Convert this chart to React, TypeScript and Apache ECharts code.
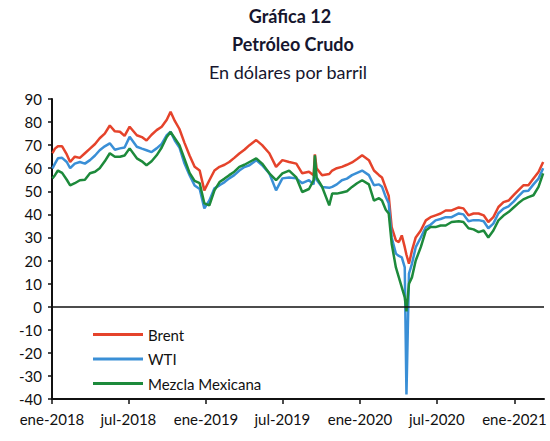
import React, { useEffect, useRef } from "react";
import * as echarts from "echarts";

const dates = [
  "2018-01-02","2018-01-08","2018-01-15","2018-01-25","2018-02-05","2018-02-13","2018-02-24","2018-03-08","2018-03-20","2018-04-01",
  "2018-04-13","2018-04-24","2018-05-06","2018-05-18","2018-05-30","2018-06-11","2018-06-22","2018-07-04","2018-07-21","2018-08-02",
  "2018-08-13","2018-08-25","2018-09-06","2018-09-18","2018-09-30","2018-10-09","2018-10-19","2018-10-30","2018-11-11","2018-11-23",
  "2018-12-05","2018-12-17","2018-12-28","2019-01-09","2019-01-21","2019-02-02","2019-02-14","2019-02-25","2019-03-09","2019-03-21",
  "2019-04-02","2019-04-14","2019-04-30","2019-05-14","2019-05-31","2019-06-16","2019-07-01","2019-07-17","2019-08-03","2019-08-17",
  "2019-09-02","2019-09-13","2019-09-16","2019-09-20","2019-10-03","2019-10-20","2019-10-27","2019-11-07","2019-11-19","2019-12-01",
  "2019-12-13","2019-12-25","2020-01-06","2020-01-22","2020-02-03","2020-02-15","2020-02-22","2020-03-02","2020-03-09","2020-03-16",
  "2020-03-26","2020-04-02","2020-04-09","2020-04-16","2020-04-20","2020-04-26","2020-05-03","2020-05-12","2020-05-24","2020-06-05",
  "2020-06-16","2020-06-28","2020-07-10","2020-07-22","2020-08-05","2020-08-22","2020-09-02","2020-09-14","2020-09-26","2020-10-08",
  "2020-10-20","2020-10-31","2020-11-12","2020-11-24","2020-12-06","2020-12-18","2020-12-30","2021-01-10","2021-01-22","2021-02-03",
  "2021-02-15","2021-02-27","2021-03-10",
];

const brent = [
  66.5, 68.5, 69.5, 69.5, 66, 62.7, 65, 64.5, 66.5, 68.5,
  70.5, 73, 75, 78.5, 76, 75.8, 74, 78, 74.3, 73.5,
  72, 74.5, 76.5, 78, 81, 84.5, 80.5, 77, 71, 65.5,
  60.6, 59, 50.4, 54.8, 59, 60.6, 61.5, 62.7, 64.5, 66.4,
  68, 70, 72.2, 70, 66.5, 60.6, 63.5, 62.7, 62, 57.8,
  58.5, 57, 66, 60, 57, 57.5, 59, 60, 60.6, 61.5,
  62.5, 64, 65.6, 63.5, 59, 57, 56, 51.5, 48, 34.5,
  28.7, 28, 30.9, 25.8, 22.5, 18.6, 24.3, 30, 33, 37.4,
  38.8, 39.6, 40.4, 41.7, 41.7, 43, 42.6, 39.6, 40.4, 40.4,
  39.6, 36.7, 38.8, 43.2, 45.3, 46, 48.3, 50.4, 52.6, 52.6,
  55.5, 58.4, 62.7,
];

const wti = [
  59.9, 62, 64.3, 64.5, 62.7, 60, 62, 62.7, 62, 63.5,
  65.5, 67.8, 69.5, 70.8, 68, 68.6, 69, 73.6, 69.3, 68.5,
  67.8, 67, 68.6, 70.5, 74.3, 75.8, 72, 69, 62, 57,
  52.5, 51, 42.6, 46, 51.3, 52.6, 54, 55.6, 57, 59,
  60.5, 61.3, 63.5, 61.3, 57.8, 50.4, 55.6, 56, 55.6, 53.5,
  54.8, 53, 60, 55, 51.9, 51.5, 51.9, 53, 54.8, 55.5,
  57, 58, 59, 57, 52.6, 53, 52, 47.5, 44.8, 30,
  23, 22, 21.4, 17, -38, 14.3, 18.6, 25.8, 30, 34.5,
  35.5, 37.4, 38, 38.8, 38.8, 40.4, 40, 37, 37.5, 37.5,
  37, 34, 36, 40.5, 42.5, 43.5, 45.5, 47.8, 50, 50.2,
  53, 55.5, 60,
];

const mezcla = [
  55.6, 57, 59, 58, 55, 52.6, 53.5, 54.8, 55, 57.8,
  58.5, 60, 63, 66.5, 65, 65, 65.5, 68.6, 64.3, 63,
  61.3, 63, 65.6, 69, 73.5, 75.7, 73, 70, 64, 58,
  54.5, 53.5, 44.8, 43.9, 50.4, 54, 55.5, 57, 58.5, 60.6,
  61.5, 62.7, 64.3, 62, 57.8, 54.8, 57.8, 59, 56, 49.7,
  51, 54.8, 65.6, 56, 52, 43.9, 49, 49, 49.5, 50,
  51.9, 53.5, 54.8, 53, 46, 47, 46, 42, 40.4, 27.3,
  17, 12.7, 8.4, 4, -2, 9.9, 12.7, 20, 25.8, 33,
  34.5, 34.5, 35.2, 35.2, 36.7, 37, 36.7, 34, 33.5, 32.3,
  33, 30, 33, 37.4, 39.5, 41, 43, 44.8, 46.5, 47.5,
  48.3, 51.9, 57.8,
];

const seriesNames = ["Brent", "WTI", "Mezcla Mexicana"];
const seriesColors = ["#e5432b", "#3a8fd6", "#1d8a3b"];
const tickDates = ["2018-01-01", "2018-07-01", "2019-01-01", "2019-07-01", "2020-01-01", "2020-07-01", "2021-01-01"];
const monthNames = ["ene", "feb", "mar", "abr", "may", "jun", "jul", "ago", "sep", "oct", "nov", "dic"];
const titleLines = ["Gráfica 12", "Petróleo Crudo", "En dólares por barril"];

const toTs = (s: string) => {
  const [y, m, d] = s.split("-").map(Number);
  return new Date(y, m - 1, d).getTime();
};

export default function App() {
  const ref = useRef<HTMLDivElement>(null);
  useEffect(() => {
    document.body.style.margin = "0";
    if (!ref.current) return;
    const chart = echarts.init(ref.current, null, { renderer: "svg" });
    const font = "Lato, 'Open Sans', sans-serif";
    const all = [brent, wti, mezcla];
    const tickTs = tickDates.map(toTs);
    chart.setOption({
      animation: false,
      backgroundColor: "#ffffff",
      textStyle: { fontFamily: font },
      graphic: [
        { type: "text", x: 290, y: 16, style: { text: titleLines[0], font: `bold 18px ${font}`, fill: "#16162e", textAlign: "center", textVerticalAlign: "middle" } },
        { type: "text", x: 293, y: 44, style: { text: titleLines[1], font: `bold 18px ${font}`, fill: "#16162e", textAlign: "center", textVerticalAlign: "middle" } },
        { type: "text", x: 288, y: 72, style: { text: titleLines[2], font: `18px ${font}`, fill: "#16162e", textAlign: "center", textVerticalAlign: "middle" } },
      ],
      legend: {
        orient: "vertical",
        left: 88,
        top: 322,
        icon: "rect",
        itemWidth: 50,
        itemHeight: 3,
        itemGap: 9.5,
        textStyle: { fontSize: 15, lineHeight: 14, color: "#111", fontFamily: font },
        data: seriesNames,
      },
      grid: { left: 52, right: 6, top: 99, bottom: 42 },
      xAxis: {
        type: "value",
        min: toTs("2018-01-01"),
        max: toTs("2021-03-12"),
        axisLine: { show: true, onZero: false, lineStyle: { color: "#111", width: 2 } },
        axisTick: { show: true, customValues: tickTs, length: 5, lineStyle: { color: "#111", width: 1.5 } },
        axisLabel: {
          customValues: tickTs,
          fontSize: 15,
          color: "#111",
          margin: 12,
          fontFamily: font,
          formatter: (v: number) => {
            const d = new Date(v);
            return monthNames[d.getMonth()] + "-" + d.getFullYear();
          },
        },
        splitLine: { show: false },
      },
      yAxis: {
        type: "value",
        min: -40,
        max: 90,
        interval: 10,
        axisLine: { show: true, onZero: false, lineStyle: { color: "#111", width: 2 } },
        axisTick: { show: true, length: 4, lineStyle: { color: "#111", width: 1.5 } },
        axisLabel: { fontSize: 15, color: "#111", margin: 10, fontFamily: font },
        splitLine: { show: false },
      },
      series: seriesNames.map((name, i) => ({
        name,
        type: "line",
        symbol: "none",
        showSymbol: false,
        data: dates.map((d, j) => [toTs(d), all[i][j]]),
        lineStyle: { color: seriesColors[i], width: 2.5 },
        itemStyle: { color: seriesColors[i] },
        z: 2 + i,
        markLine:
          i === 0
            ? {
                silent: true,
                symbol: "none",
                label: { show: false },
                lineStyle: { color: "#111", width: 1.5, type: "solid" },
                data: [{ yAxis: 0 }],
              }
            : undefined,
      })),
    });
    return () => chart.dispose();
  }, []);
  return <div ref={ref} style={{ width: 550, height: 441 }} />;
}
